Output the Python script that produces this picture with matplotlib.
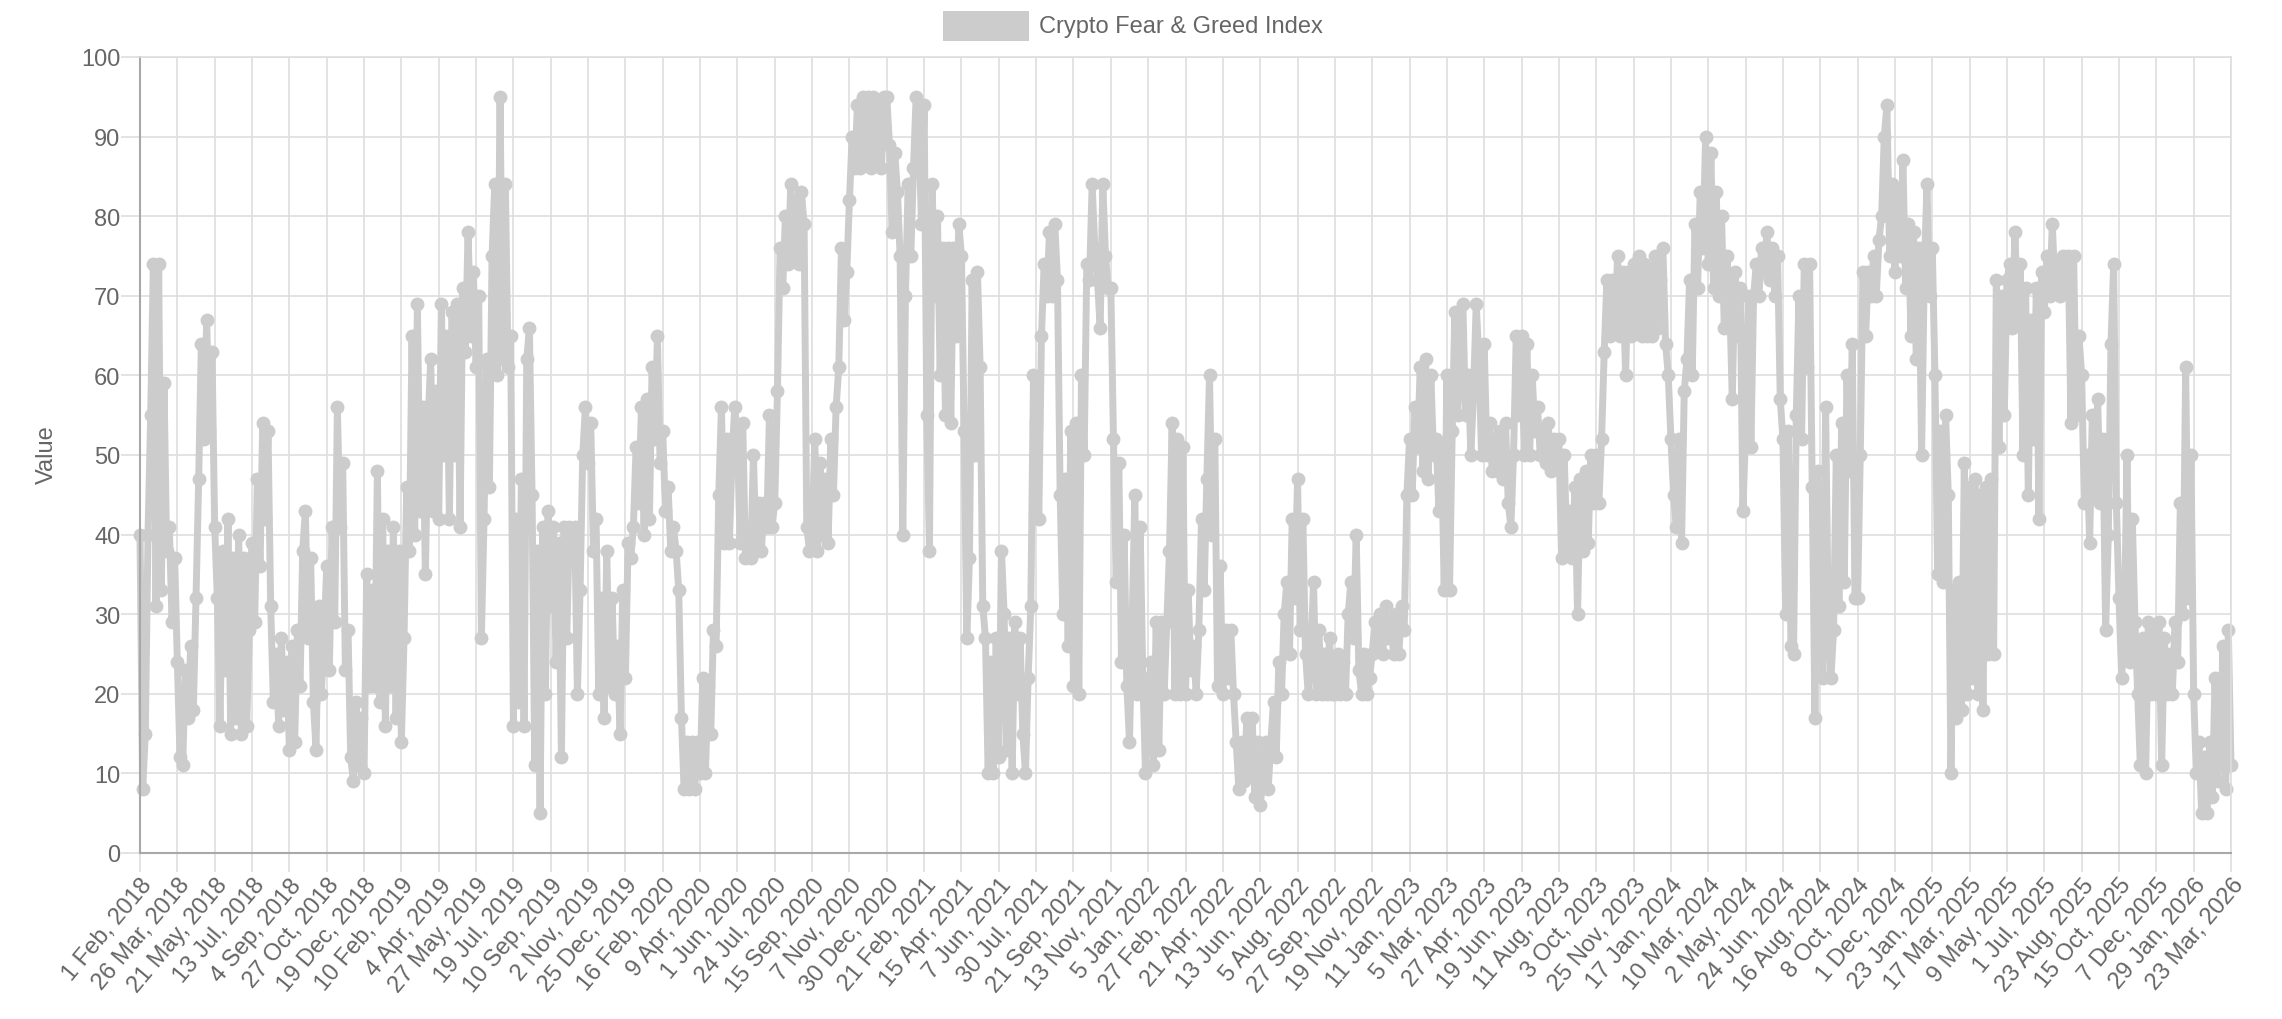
import matplotlib

matplotlib.use("Agg")
import matplotlib.pyplot as plt
import numpy as np

plt.rcParams["font.family"] = ["Liberation Sans", "DejaVu Sans"]

tick_labels = [
    "1 Feb, 2018", "26 Mar, 2018", "21 May, 2018", "13 Jul, 2018", "4 Sep, 2018",
    "27 Oct, 2018", "19 Dec, 2018", "10 Feb, 2019", "4 Apr, 2019", "27 May, 2019",
    "19 Jul, 2019", "10 Sep, 2019", "2 Nov, 2019", "25 Dec, 2019", "16 Feb, 2020",
    "9 Apr, 2020", "1 Jun, 2020", "24 Jul, 2020", "15 Sep, 2020", "7 Nov, 2020",
    "30 Dec, 2020", "21 Feb, 2021", "15 Apr, 2021", "7 Jun, 2021", "30 Jul, 2021",
    "21 Sep, 2021", "13 Nov, 2021", "5 Jan, 2022", "27 Feb, 2022", "21 Apr, 2022",
    "13 Jun, 2022", "5 Aug, 2022", "27 Sep, 2022", "19 Nov, 2022", "11 Jan, 2023",
    "5 Mar, 2023", "27 Apr, 2023", "19 Jun, 2023", "11 Aug, 2023", "3 Oct, 2023",
    "25 Nov, 2023", "17 Jan, 2024", "10 Mar, 2024", "2 May, 2024", "24 Jun, 2024",
    "16 Aug, 2024", "8 Oct, 2024", "1 Dec, 2024", "23 Jan, 2025", "17 Mar, 2025",
    "9 May, 2025", "1 Jul, 2025", "23 Aug, 2025", "15 Oct, 2025", "7 Dec, 2025",
    "29 Jan, 2026", "23 Mar, 2026",
]

# values, 14 samples between each pair of date labels
values = [
    40, 8, 15, 40, 55, 74, 31, 74, 33, 59, 38, 41, 29, 37,
    24, 12, 11, 23, 17, 26, 18, 32, 47, 64, 52, 67, 53, 63,
    41, 32, 16, 38, 23, 42, 15, 37, 17, 40, 15, 37, 16, 28,
    39, 29, 47, 36, 54, 42, 53, 31, 19, 25, 16, 27, 18, 24,
    13, 26, 14, 28, 21, 38, 43, 27, 37, 19, 13, 31, 20, 27,
    36, 23, 41, 29, 56, 41, 49, 23, 28, 12, 9, 19, 11, 17,
    10, 35, 21, 33, 21, 48, 19, 42, 16, 38, 21, 41, 17, 38,
    14, 27, 46, 38, 65, 40, 69, 43, 56, 35, 54, 62, 43, 58,
    42, 69, 50, 65, 42, 68, 50, 69, 41, 71, 63, 78, 65, 73,
    61, 70, 27, 42, 62, 46, 75, 84, 60, 95, 62, 84, 61, 65,
    16, 42, 19, 47, 16, 62, 66, 45, 11, 38, 5, 41, 20, 43,
    31, 41, 24, 39, 12, 41, 27, 41, 37, 41, 20, 33, 50, 56,
    49, 54, 38, 42, 20, 32, 17, 38, 21, 32, 20, 26, 15, 33,
    22, 39, 37, 41, 51, 44, 56, 40, 57, 42, 61, 52, 65, 49,
    53, 43, 46, 38, 41, 38, 33, 17, 8, 14, 8, 14, 8, 14,
    10, 22, 10, 21, 15, 28, 26, 45, 56, 39, 52, 39, 50, 56,
    52, 39, 54, 37, 40, 37, 50, 38, 44, 38, 44, 41, 55, 41,
    44, 58, 76, 71, 80, 74, 84, 75, 82, 74, 83, 79, 41, 38,
    40, 52, 38, 49, 40, 47, 39, 52, 45, 56, 61, 76, 67, 73,
    82, 90, 86, 94, 86, 95, 87, 95, 86, 95, 87, 94, 86, 95,
    95, 89, 78, 88, 83, 75, 40, 70, 84, 75, 86, 95, 91, 79,
    94, 55, 38, 84, 70, 80, 60, 76, 55, 76, 54, 76, 65, 79,
    75, 53, 27, 37, 72, 50, 73, 61, 31, 27, 10, 24, 10, 27,
    12, 38, 30, 13, 27, 10, 29, 20, 27, 15, 10, 22, 31, 60,
    54, 42, 65, 74, 70, 78, 70, 79, 72, 45, 30, 47, 26, 53,
    21, 54, 20, 60, 50, 74, 72, 84, 76, 72, 66, 84, 75, 71,
    71, 52, 34, 49, 24, 40, 21, 14, 29, 45, 20, 41, 22, 10,
    18, 24, 11, 29, 13, 29, 20, 29, 38, 54, 20, 52, 20, 51,
    20, 33, 23, 26, 20, 28, 42, 33, 47, 60, 40, 52, 21, 36,
    20, 28, 22, 28, 20, 14, 8, 14, 9, 17, 10, 17, 7, 14,
    6, 9, 14, 8, 14, 19, 12, 24, 20, 30, 34, 25, 42, 32,
    47, 28, 42, 25, 20, 25, 34, 20, 28, 20, 25, 20, 27, 20,
    20, 25, 20, 24, 20, 30, 34, 27, 40, 23, 20, 25, 20, 22,
    25, 29, 26, 30, 25, 31, 27, 29, 25, 30, 25, 31, 28, 45,
    52, 45, 56, 51, 61, 48, 62, 47, 60, 50, 52, 43, 51, 33,
    60, 33, 53, 68, 55, 63, 69, 55, 60, 50, 58, 69, 62, 50,
    64, 50, 54, 48, 52, 48, 53, 47, 54, 44, 41, 50, 65, 55,
    65, 50, 64, 50, 60, 53, 56, 50, 53, 49, 54, 48, 52, 49,
    52, 37, 50, 38, 43, 37, 46, 30, 47, 38, 48, 39, 50, 44,
    50, 44, 52, 63, 72, 65, 72, 66, 75, 65, 73, 60, 73, 65,
    74, 66, 75, 65, 74, 65, 73, 65, 75, 66, 72, 76, 64, 60,
    52, 45, 41, 52, 39, 58, 62, 72, 60, 79, 71, 83, 76, 90,
    74, 88, 71, 83, 70, 80, 66, 75, 70, 57, 73, 65, 71, 43,
    53, 70, 51, 70, 74, 70, 76, 73, 78, 72, 76, 70, 75, 57,
    52, 30, 53, 26, 25, 55, 70, 52, 74, 61, 74, 46, 17, 48,
    34, 22, 56, 29, 22, 28, 50, 31, 54, 34, 60, 48, 64, 32,
    32, 50, 73, 65, 73, 70, 75, 70, 77, 80, 90, 94, 75, 84,
    73, 83, 75, 87, 71, 79, 65, 78, 62, 76, 50, 73, 84, 70,
    76, 60, 35, 53, 34, 55, 45, 10, 33, 17, 34, 18, 49, 20,
    46, 22, 47, 20, 45, 18, 46, 25, 47, 25, 72, 51, 70, 55,
    72, 74, 66, 78, 67, 74, 50, 71, 45, 67, 52, 71, 42, 73,
    68, 75, 70, 79, 71, 74, 70, 75, 71, 75, 54, 75, 55, 65,
    60, 44, 50, 39, 55, 45, 57, 44, 52, 28, 40, 64, 74, 44,
    32, 22, 28, 50, 24, 42, 29, 20, 11, 27, 10, 29, 20, 28,
    20, 29, 11, 27, 20, 25, 20, 29, 24, 44, 30, 61, 32, 50,
    20, 10, 14, 5, 12, 5, 14, 7, 22, 9, 14, 26, 8, 28,
    11,
]

samples_per_label = 14
x = np.arange(len(values))
tick_pos = np.arange(len(tick_labels)) * samples_per_label

text_color = "#666666"
fill_color = "#cccccc"
grid_color = "#dedede"
axis_color = "#a8a8a8"

fig = plt.figure(figsize=(22.82, 10.2), dpi=100)
ax = fig.add_axes([140 / 2282, 1 - 854 / 1020, (2231 - 140) / 2282, (854 - 58) / 1020])

ax.plot(x, values, "-o", color=fill_color, lw=5, ms=10, mew=0, clip_on=False, zorder=2)

ax.set_xlim(0, tick_pos[-1])
ax.set_ylim(0, 100)
ax.set_yticks(np.arange(0, 101, 10))
ax.set_xticks(tick_pos)
ax.set_xticklabels(
    tick_labels, rotation=50, ha="right", va="top", rotation_mode="anchor",
    fontsize=17, color=text_color,
)
ax.tick_params(axis="y", labelsize=17, labelcolor=text_color, color=grid_color, width=1.2, length=14, pad=0)
ax.tick_params(axis="x", color=grid_color, width=1.2, length=14, pad=1)
ax.grid(True, color=grid_color, lw=1.2, zorder=1)
ax.set_axisbelow(True)

for name, spine in ax.spines.items():
    spine.set_color(axis_color if name in ("left", "bottom") else grid_color)
    spine.set_linewidth(1.5 if name in ("left", "bottom") else 1.2)

fig.text(47 / 2282, 1 - 455 / 1020, "Value", rotation=90, ha="center", va="center", fontsize=17, color=text_color)

fig.patches.append(plt.Rectangle((943 / 2282, 1 - 42 / 1020), 86 / 2282, 30 / 1020,
                                 transform=fig.transFigure, color=fill_color, lw=0))
fig.text(1039 / 2282, 1 - 27 / 1020, "Crypto Fear & Greed Index", ha="left", va="center", fontsize=17, color=text_color)

fig.savefig("out.png", dpi=100)
